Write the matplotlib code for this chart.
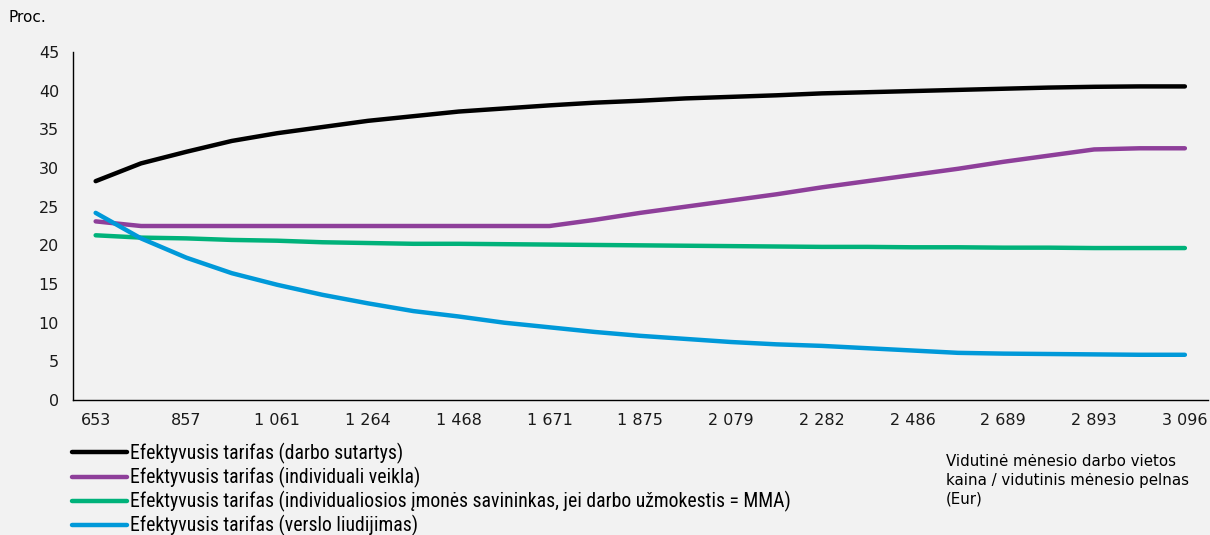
import numpy as np
import matplotlib
matplotlib.use('Agg')
import matplotlib.pyplot as plt
from matplotlib import font_manager

# monthly cost / profit steps (Eur), every second one is labelled
income = [653, 755, 857, 959, 1061, 1162, 1264, 1366, 1468, 1570, 1671, 1773, 1875,
          1977, 2079, 2180, 2282, 2384, 2486, 2587, 2689, 2791, 2893, 2994, 3096]
tick_labels = ['653', '857', '1 061', '1 264', '1 468', '1 671', '1 875',
               '2 079', '2 282', '2 486', '2 689', '2 893', '3 096']

darbo_sutartys = [28.3, 30.6, 32.1, 33.5, 34.5, 35.3, 36.1, 36.7, 37.3, 37.7, 38.1, 38.45, 38.7,
                  39.0, 39.2, 39.4, 39.65, 39.8, 39.95, 40.1, 40.25, 40.4, 40.5, 40.55, 40.55]
individuali = [23.1, 22.5, 22.5, 22.5, 22.5, 22.5, 22.5, 22.5, 22.5, 22.5, 22.5, 23.3, 24.2,
               25.0, 25.8, 26.6, 27.5, 28.3, 29.1, 29.9, 30.8, 31.6, 32.4, 32.55, 32.55]
ii_savininkas = [21.3, 21.0, 20.9, 20.7, 20.6, 20.4, 20.3, 20.2, 20.2, 20.15, 20.1, 20.05, 20.0,
                 19.95, 19.9, 19.85, 19.8, 19.8, 19.75, 19.75, 19.7, 19.7, 19.65, 19.65, 19.65]
verslo_liud = [24.2, 20.9, 18.4, 16.4, 14.9, 13.6, 12.5, 11.5, 10.8, 10.0, 9.4, 8.8, 8.3,
               7.9, 7.5, 7.2, 7.0, 6.7, 6.4, 6.1, 6.0, 5.95, 5.9, 5.85, 5.85]

labels = ['Efektyvusis tarifas (darbo sutartys)',
          'Efektyvusis tarifas (individuali veikla)',
          'Efektyvusis tarifas (individualiosios įmonės savininkas, jei darbo užmokestis = MMA)',
          'Efektyvusis tarifas (verslo liudijimas)']
colors = ['#000000', '#8e3f9a', '#00b27a', '#0099d9']

bg = '#f2f2f2'
plt.rcParams['font.family'] = ['DejaVu Sans']

# legend uses a narrow face if one is installed
names = {f.name for f in font_manager.fontManager.ttflist}
narrow = [n for n in ['Liberation Sans Narrow', 'DejaVu Sans Condensed', 'Roboto Condensed',
                      'Open Sans Condensed'] if n in names]
if narrow:
    legend_prop = font_manager.FontProperties(family=narrow[0], size=14.2)
else:
    legend_prop = font_manager.FontProperties(family='DejaVu Sans', stretch='condensed', size=12)

fig = plt.figure(figsize=(12.1, 5.35), dpi=100, facecolor=bg)
ax = fig.add_axes([0.0603, 0.2523, 0.9377, 0.6505], facecolor=bg)

x = np.arange(len(income))
series = [darbo_sutartys, individuali, ii_savininkas, verslo_liud]
for vals, lab, col in zip(series, labels, colors):
    ax.plot(x, vals, color=col, lw=3.2, label=lab, solid_capstyle='round', solid_joinstyle='round')

ax.set_xlim(-0.5, len(income) - 0.5)
ax.set_ylim(0, 45)
ax.set_yticks(np.arange(0, 46, 5))
ax.set_xticks(x[::2])
ax.set_xticklabels(tick_labels)
ax.tick_params(axis='both', length=0, labelsize=11.5, colors='#1a1a1a')
ax.tick_params(axis='x', pad=9)
ax.tick_params(axis='y', pad=10)
for s in ['top', 'right']:
    ax.spines[s].set_visible(False)
for s in ['left', 'bottom']:
    ax.spines[s].set_linewidth(1.0)

fig.text(8 / 1210, 1 - 18 / 535, 'Proc.', fontsize=11, va='center', ha='left')
fig.text(946 / 1210, 1 - 454 / 535,
         'Vidutinė mėnesio darbo vietos\nkaina / vidutinis mėnesio pelnas\n(Eur)',
         fontsize=10.8, va='top', ha='left', linespacing=1.32)

size_px = legend_prop.get_size_in_points() * 100 / 72
fig.legend(loc='upper left', bbox_to_anchor=(72 / 1210, 1 - 443 / 535), frameon=False,
           handlelength=55 / size_px, handletextpad=3 / size_px, labelspacing=0.15,
           borderpad=0, borderaxespad=0, prop=legend_prop)

fig.savefig('out.png', dpi=100, facecolor=bg)
